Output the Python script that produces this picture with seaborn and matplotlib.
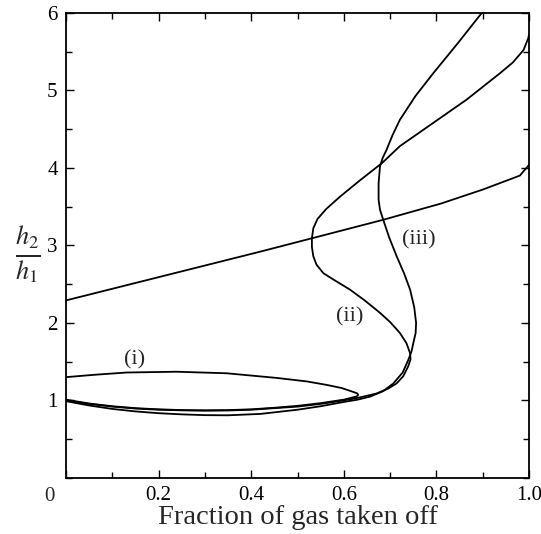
import numpy as np
import pandas as pd
import matplotlib
matplotlib.use("Agg")
import matplotlib.pyplot as plt
import seaborn as sns
from matplotlib.ticker import MultipleLocator

# ---- data ----
line_x = [0.0, 0.2, 0.42, 0.53, 0.685, 0.81, 0.9, 0.98, 1.0]
line_y = [2.29, 2.59, 2.92, 3.09, 3.33, 3.54, 3.72, 3.9, 4.04]

c1_x = [0.0, 0.06, 0.131, 0.239, 0.347, 0.455, 0.52, 0.563, 0.595, 0.62, 0.629, 0.631,
        0.627, 0.62, 0.6, 0.55, 0.5, 0.45, 0.4, 0.35, 0.3, 0.25, 0.2, 0.15, 0.1, 0.05, 0.0]
c1_y = [1.30, 1.33, 1.36, 1.37, 1.35, 1.29, 1.245, 1.20, 1.16, 1.11, 1.09, 1.07,
        1.05, 1.04, 1.01, 0.965, 0.93, 0.905, 0.885, 0.875, 0.872, 0.875, 0.885, 0.9, 0.925, 0.96, 1.01]

c2_x = [0.0, 0.05, 0.1, 0.15, 0.2, 0.25, 0.3, 0.35, 0.4, 0.45, 0.5, 0.55, 0.6, 0.628, 0.65,
        0.671, 0.695, 0.714, 0.728, 0.739, 0.744, 0.743, 0.735, 0.721, 0.70, 0.678,
        0.645, 0.613, 0.58, 0.556, 0.541, 0.534, 0.531, 0.531, 0.534, 0.543, 0.562,
        0.592, 0.635, 0.682, 0.721, 0.793, 0.865, 0.937, 0.965, 0.988, 0.998, 1.0]
c2_y = [1.0, 0.955, 0.92, 0.895, 0.88, 0.872, 0.868, 0.87, 0.88, 0.9, 0.92, 0.955, 1.0, 1.03, 1.06,
        1.09, 1.15, 1.22, 1.31, 1.44, 1.53, 1.61, 1.74, 1.87, 2.01, 2.13,
        2.29, 2.43, 2.55, 2.64, 2.75, 2.86, 2.98, 3.09, 3.22, 3.34, 3.47,
        3.63, 3.84, 4.06, 4.28, 4.58, 4.88, 5.22, 5.36, 5.52, 5.67, 5.72]

c3_x = [0.0, 0.05, 0.1, 0.15, 0.2, 0.25, 0.3, 0.35, 0.42, 0.5, 0.55, 0.6, 0.63, 0.657, 0.685,
        0.707, 0.727, 0.739, 0.746, 0.75, 0.755, 0.756, 0.752, 0.743, 0.73, 0.714,
        0.698, 0.685, 0.678, 0.675, 0.675, 0.678, 0.684, 0.692, 0.705, 0.721, 0.755,
        0.793, 0.845, 0.898]
c3_y = [0.99, 0.935, 0.89, 0.858, 0.835, 0.82, 0.81, 0.808, 0.826, 0.88, 0.925, 0.98, 1.01, 1.05, 1.12,
        1.22, 1.36, 1.52, 1.63, 1.74, 1.87, 2.0, 2.2, 2.43, 2.64, 2.86,
        3.1, 3.33, 3.46, 3.59, 3.8, 4.02, 4.13, 4.23, 4.42, 4.62, 4.93,
        5.22, 5.6, 6.0]

labels = ["(i)", "(ii)", "(iii)"]
label_x = [0.149, 0.613, 0.761]
label_y = [1.52, 2.08, 3.07]

x_ticks = [0, 0.2, 0.4, 0.6, 0.8, 1.0]
x_ticklabels = ["", "0.2", "0.4", "0.6", "0.8", "1.0"]
y_ticks = [1, 2, 3, 4, 5, 6]
y_ticklabels = ["1", "2", "3", "4", "5", "6"]

# ---- build table ----
frames = []
for name, xs, ys in [("line", line_x, line_y), ("i", c1_x, c1_y),
                     ("ii", c2_x, c2_y), ("iii", c3_x, c3_y)]:
    frames.append(pd.DataFrame({"x": xs, "y": ys, "curve": name,
                                "order": np.arange(len(xs))}))
df = pd.concat(frames, ignore_index=True)

sns.set_style("ticks")
plt.rcParams["font.family"] = ["Liberation Serif", "DejaVu Serif"]
plt.rcParams["mathtext.fontset"] = "stix"

fig = plt.figure(figsize=(5.41, 5.34), dpi=100)
ax = fig.add_axes([0.122, 0.105, 0.856, 0.871])

for name in ["line", "i", "ii", "iii"]:
    sub = df[df["curve"] == name]
    sns.lineplot(data=sub, x="x", y="y", sort=False, estimator=None,
                 color="black", linewidth=1.3, ax=ax)

for t, lx, ly in zip(labels, label_x, label_y):
    ax.text(lx, ly, t, ha="center", va="center", fontsize=16)

ax.set_xlim(0, 1.0)
ax.set_ylim(0, 6)
ax.set_xticks(x_ticks)
ax.set_xticklabels(x_ticklabels)
ax.set_yticks(y_ticks)
ax.set_yticklabels(y_ticklabels)
ax.xaxis.set_minor_locator(MultipleLocator(0.1))
ax.yaxis.set_minor_locator(MultipleLocator(0.5))
ax.tick_params(which="both", direction="in", top=True, right=True,
               colors="black", labelsize=15, width=1.0)
ax.tick_params(which="major", length=6, pad=6)
ax.tick_params(which="minor", length=4)
for s in ax.spines.values():
    s.set_linewidth(1.3)
    s.set_color("black")

ax.text(-0.035, -0.02, "0", transform=ax.transAxes, ha="center", va="top", fontsize=15)

ax.set_xlabel("Fraction of gas taken off", fontsize=20.5, labelpad=0)
ax.set_ylabel(r"$\frac{h_2}{h_1}$", fontsize=27, rotation=0, va="center")
ax.yaxis.set_label_coords(-0.082, 0.48)

fig.savefig("out.png", dpi=100)
